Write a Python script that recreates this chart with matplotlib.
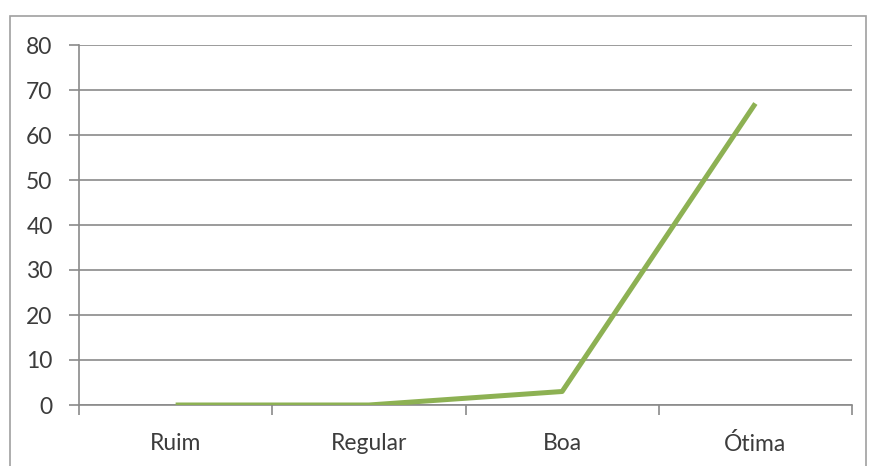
import matplotlib
matplotlib.use("Agg")
import matplotlib.pyplot as plt
from matplotlib.patches import Rectangle
import numpy as np

categories = ["Ruim", "Regular", "Boa", "Ótima"]
values = [0, 0, 3, 67]
yticks = [0, 10, 20, 30, 40, 50, 60, 70, 80]

plt.rcParams['font.family'] = ['Lato', 'DejaVu Sans']

fig = plt.figure(figsize=(8.71, 4.66), dpi=100)
fig.patches.append(Rectangle((10/871, -0.1), (866-10)/871, 1.1 - 16/466, transform=fig.transFigure,
                             fill=False, edgecolor='#a0a0a0', linewidth=1.2))
ax = fig.add_axes([79/871, (466-405)/466, (852-79)/871, (405-45)/466])

x = np.arange(len(categories))
ax.plot(x, values, color='#8db153', linewidth=3.6, solid_capstyle='butt', zorder=3)

ax.set_xlim(-0.5, len(categories) - 0.5)
ax.set_ylim(0, 80)
ax.set_yticks(yticks)
ax.set_yticklabels([str(v) for v in yticks])
ax.set_xticks(x)
ax.set_xticklabels(categories)
ax.set_xticks(np.arange(-0.5, len(categories)), minor=True)
ax.tick_params(axis='x', which='major', length=0, pad=20, labelsize=16.5, labelcolor='#3c3c3c')
ax.tick_params(axis='x', which='minor', length=7, color='#8a8a8a', width=1.2)
ax.tick_params(axis='y', length=7, color='#8a8a8a', width=1.2, labelsize=16.5, labelcolor='#3c3c3c', pad=12)
ax.grid(axis='y', color='#8a8a8a', linewidth=1.2)
ax.set_axisbelow(True)
for s in ['top', 'right']:
    ax.spines[s].set_visible(False)
for s in ['left', 'bottom']:
    ax.spines[s].set_color('#8a8a8a')
    ax.spines[s].set_linewidth(1.2)

fig.savefig("out.png", dpi=100)
